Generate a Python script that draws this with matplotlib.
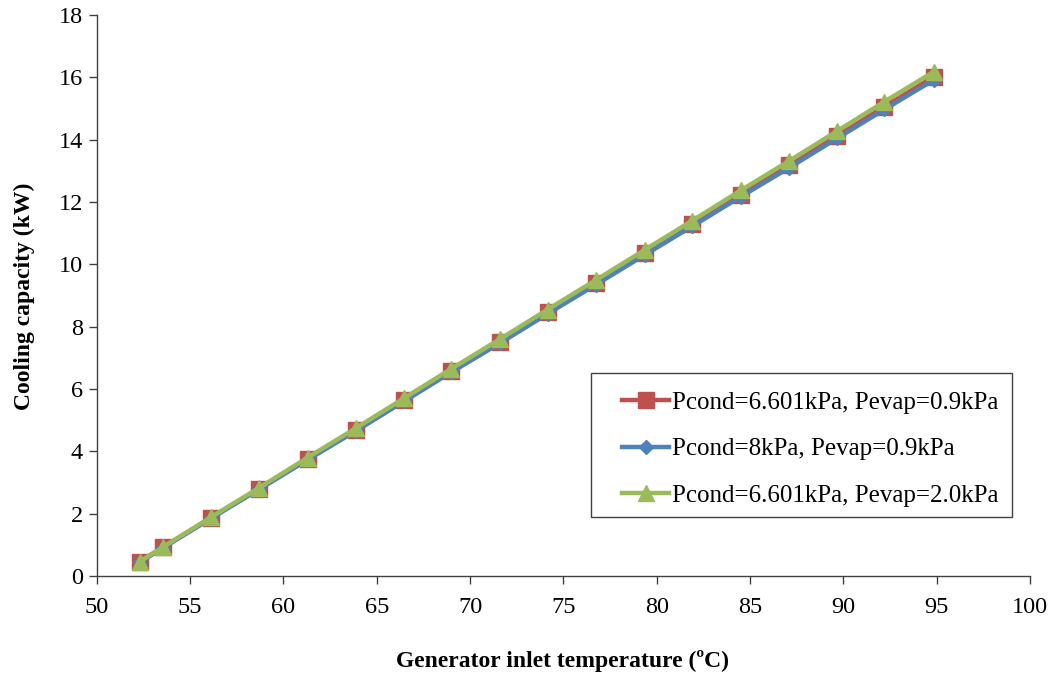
import matplotlib
matplotlib.use("Agg")
import matplotlib.pyplot as plt
from matplotlib.patches import Rectangle

# Generator inlet temperature (°C)
temperature = [52.3, 53.55, 56.1, 58.7, 61.3, 63.9, 66.45, 69.0, 71.6, 74.15,
               76.75, 79.35, 81.9, 84.5, 87.1, 89.65, 92.2, 94.85]

# Cooling capacity (kW) for each pressure combination
cap_66_09 = [0.46, 0.92, 1.86, 2.80, 3.76, 4.70, 5.64, 6.58, 7.52, 8.46,
             9.40, 10.36, 11.28, 12.24, 13.18, 14.12, 15.06, 16.02]
cap_80_09 = [0.44, 0.90, 1.84, 2.78, 3.73, 4.66, 5.60, 6.54, 7.47, 8.41,
             9.35, 10.30, 11.22, 12.17, 13.10, 14.04, 14.97, 15.92]
cap_66_20 = [0.46, 0.93, 1.88, 2.83, 3.80, 4.75, 5.70, 6.65, 7.60, 8.55,
             9.50, 10.46, 11.40, 12.37, 13.32, 14.27, 15.22, 16.18]

labels = ["Pcond=6.601kPa, Pevap=0.9kPa",
          "Pcond=8kPa, Pevap=0.9kPa",
          "Pcond=6.601kPa, Pevap=2.0kPa"]

x_ticks = [50, 55, 60, 65, 70, 75, 80, 85, 90, 95, 100]
y_ticks = [0, 2, 4, 6, 8, 10, 12, 14, 16, 18]

plt.rcParams["font.family"] = ["Liberation Serif", "DejaVu Serif"]

fig = plt.figure(figsize=(10.55, 6.74), dpi=100)
ax = fig.add_axes([0.0917, 0.1454, 0.8846, 0.8323])

ax.plot(temperature, cap_66_09, color="#C0504D", lw=3.2, marker="s", ms=11,
        label=labels[0], zorder=3)
ax.plot(temperature, cap_80_09, color="#4F81BD", lw=3.2, marker="D", ms=7,
        label=labels[1], zorder=4)
ax.plot(temperature, cap_66_20, color="#9BBB59", lw=3.2, marker="^", ms=12,
        label=labels[2], zorder=5)

ax.set_xlim(50, 100)
ax.set_ylim(0, 18)
ax.set_xticks(x_ticks)
ax.set_yticks(y_ticks)
ax.tick_params(axis="both", direction="out", length=6, width=1,
               labelsize=17.5, color="#404040")
ax.tick_params(axis="x", pad=9)
ax.tick_params(axis="y", pad=4)

for side in ("top", "right"):
    ax.spines[side].set_visible(False)
for side in ("left", "bottom"):
    ax.spines[side].set_color("#404040")
    ax.spines[side].set_linewidth(1)

ax.set_xlabel("Generator inlet temperature (\u00baC)", fontsize=17,
              fontweight="bold", va="center")
ax.set_ylabel("Cooling capacity (kW)", fontsize=17, fontweight="bold",
              va="center")
ax.xaxis.set_label_coords(0.499, -0.152)
ax.yaxis.set_label_coords(-0.078, 0.498)

# Legend frame drawn separately so the entries can sit inset from its left edge
ax.add_patch(Rectangle((0.5296, 0.105), 0.4511, 0.2567, transform=ax.transAxes,
                       facecolor="white", edgecolor="#404040", lw=1,
                       zorder=6, clip_on=False))
leg = ax.legend(loc="upper left", bbox_to_anchor=(0.5628, 0.329),
                fontsize=18, frameon=False, handlelength=1.9,
                handletextpad=0.1, labelspacing=0.96, borderpad=0,
                borderaxespad=0)
leg.set_zorder(7)

fig.savefig("out.png", dpi=100)
